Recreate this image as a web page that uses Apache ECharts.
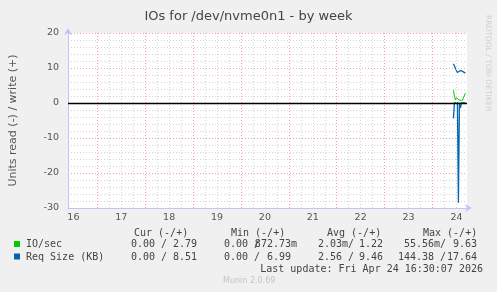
<!DOCTYPE html>
<html><head><meta charset="utf-8">
<script src="https://cdn.jsdelivr.net/npm/echarts@6/dist/echarts.min.js"></script>
<style>html,body{margin:0;padding:0;background:#f0f0f0}#c{width:497px;height:292px}</style>
</head><body><div id="c"></div>
<script>
const titleText = 'IOs for /dev/nvme0n1 - by week';
const yAxisName = 'Units read (-) / write (+)';
const dayLabels = ['16','17','18','19','20','21','22','23','24'];
// sample times in hours since Apr 16 00:00 (Apr 24 10:30 .. 16:30)
const sampleHours = [202.5,203,203.5,204,204.5,205,205.5,206,206.5,207,207.5,208,208.5];
const ioRead   = [0,0,0,0,0,0,0,0,0,0,0,0,0];
const ioWrite  = [3.7,1.9,0.9,1.5,2.0,1.1,0.8,0.8,0.8,0.8,0.8,0.8,2.8];
const reqRead  = [4.4,0,0,0,0,28.5,0,1.5,0,0,0,0,0];
const reqWrite = [11.2,11.4,10.9,9.3,8.7,9.1,8.9,9.3,9.0,8.8,8.9,8.7,8.5];
const seriesNames = ['IO/sec','Req Size (KB)'];
const seriesColors = ['#00cc00','#0066b3'];
const legendHeader = ['Cur (-/+)','Min (-/+)','Avg (-/+)','Max (-/+)'];
// each cell: [read part, write part]
const legendRows = [
  [['0.00 ','2.79 '],['0.00 ','872.73m'],['2.03m','1.22 '],['55.56m','9.63 ']],
  [['0.00 ','8.51 '],['0.00 ','6.99 '],['2.56 ','9.46 '],['144.38 ','17.64 ']]
];
const lastUpdate = 'Last update: Fri Apr 24 16:30:07 2026';
const footer = 'Munin 2.0.69';
const sideText = 'RRDTOOL / TOBI OETIKER';

const X_MIN = 9.3, X_MAX = 209.3;
const dayHours = dayLabels.map((d,i)=>12+24*i);
const midnights = [], minors = [];
for (let h = 24; h < X_MAX; h += 6) { if (h % 24 === 0) midnights.push(h); else minors.push(h); }
const pairs = arr => sampleHours.map((h,i)=>[h, arr[i]]);
const neg = arr => sampleHours.map((h,i)=>[h, -arr[i]]);

const mono = '10px "DejaVu Sans Mono"';
const txtColor = '#444';
const graphics = [];
function t(x,y,text,align){ graphics.push({type:'text', x:x, y:y, style:{text:text, font:mono, fill:txtColor, textAlign:align||'left', textVerticalAlign:'middle'}}); }
const headX = [134,231,327,423];
legendHeader.forEach((h,i)=>t(headX[i],233,h));
const slashX = [161.1,254.1,348.1,440.1];
const rightEnd = [203,297,389,483];
const rowY = [244.5,257];
legendRows.forEach((row,r)=>{
  graphics.push({type:'rect', shape:{x:14,y:rowY[r]-3.5,width:6,height:6}, style:{fill:seriesColors[r]}});
  t(26,rowY[r],seriesNames[r]);
  row.forEach((cell,c)=>{
    t(slashX[c],rowY[r],cell[0],'right');
    t(slashX[c],rowY[r],'/');
    t(rightEnd[c],rowY[r],cell[1],'right');
  });
});
t(483,269,lastUpdate,'right');
graphics.push({type:'text', x:223, y:281, style:{text:footer, font:'8px "DejaVu Sans"', fill:'#c4c4c4', textAlign:'left', textVerticalAlign:'middle'}});
graphics.push({type:'text', x:488, y:15, rotation:-Math.PI/2, style:{text:sideText, font:'7.5px "DejaVu Sans"', fill:'#cfcfcf', textAlign:'left', textVerticalAlign:'middle'}});

const axisCol = '#c4c4f4';
const chart = echarts.init(document.getElementById('c'), null, {renderer:'canvas'});
chart.setOption({
  backgroundColor:'#f0f0f0',
  animation:false,
  title:{text:titleText, left:'center', top:5, textStyle:{fontFamily:'DejaVu Sans', fontSize:13, fontWeight:'normal', color:'#444'}},
  grid:{left:67, top:33, width:400, height:175, show:true, backgroundColor:'#ffffff', borderWidth:0},
  xAxis:{type:'value', min:X_MIN, max:X_MAX,
    axisLine:{show:true, onZero:false, lineStyle:{color:axisCol, width:1}, symbol:['none','arrow'], symbolSize:[6,7], symbolOffset:[0,5]},
    axisTick:{show:false}, splitLine:{show:false},
    axisLabel:{customValues:dayHours, formatter:v=>dayLabels[Math.round((v-12)/24)], color:'#555', fontSize:9.5, fontFamily:'DejaVu Sans', margin:5}},
  yAxis:{type:'value', min:-30, max:20, interval:10,
    name:yAxisName, nameLocation:'middle', nameGap:49, nameRotate:90,
    nameTextStyle:{color:'#555', fontSize:11, fontFamily:'DejaVu Sans'},
    axisLine:{show:true, lineStyle:{color:axisCol, width:1}, symbol:['none','arrow'], symbolSize:[6,7], symbolOffset:[0,5]},
    axisTick:{show:false},
    axisLabel:{color:'#555', fontSize:9.5, fontFamily:'DejaVu Sans', margin:9},
    splitLine:{show:true, lineStyle:{color:'rgba(240,100,100,0.6)', type:[1,2], width:1}},
    minorTick:{show:false, splitNumber:5},
    minorSplitLine:{show:true, lineStyle:{color:'#d4d4d4', type:[1,2], width:1}}},
  graphic:graphics,
  series:[
    {type:'line', name:'grid', data:[], z:1, silent:true,
      markLine:{silent:true, symbol:'none', animation:false, label:{show:false},
        data:[].concat(
          minors.map(h=>({xAxis:h, lineStyle:{color:'#d4d4d4', type:[1,2], width:1}})),
          midnights.map(h=>({xAxis:h, lineStyle:{color:'rgba(240,100,100,0.6)', type:[1,2], width:1}}))
        )}},
    {type:'line', name:seriesNames[0]+' read', data:neg(ioRead), symbol:'none', z:3, lineStyle:{color:seriesColors[0], width:1}},
    {type:'line', name:seriesNames[0]+' write', data:pairs(ioWrite), symbol:'none', z:3, lineStyle:{color:seriesColors[0], width:1}},
    {type:'line', name:seriesNames[1]+' read', data:neg(reqRead), symbol:'none', z:4, lineStyle:{color:seriesColors[1], width:1.3}},
    {type:'line', name:seriesNames[1]+' write', data:pairs(reqWrite), symbol:'none', z:4, lineStyle:{color:seriesColors[1], width:1.3}},
    {type:'line', name:'zero', data:[], z:6, silent:true,
      markLine:{silent:true, symbol:'none', animation:false, label:{show:false},
        data:[{yAxis:0, lineStyle:{color:'#000', type:'solid', width:1.4}}]}}
  ]
});
</script></body></html>
